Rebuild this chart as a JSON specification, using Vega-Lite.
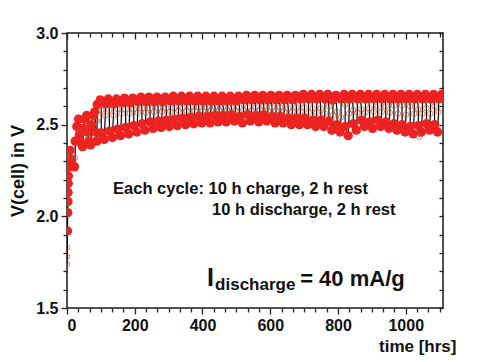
{
"$schema": "https://vega.github.io/schema/vega-lite/v6.json",
"width": 376,
"height": 275,
"autosize": "none",
"padding": {"left": 67, "top": 33, "right": 35, "bottom": 54},
"background": "white",
"config": {
  "view": {"stroke": "#1a1a1a", "strokeWidth": 1.5},
  "font": "Liberation Sans",
  "axis": {"domain": false, "grid": false, "labelFont": "Liberation Sans", "labelFontWeight": "bold", "labelFontSize": 16, "labelColor": "#111", "tickColor": "#222", "tickWidth": 1.3, "titleFont": "Liberation Sans", "titleFontWeight": "bold", "titleColor": "#111"}
},
"datasets": {
  "cyc": [
    {"t":0,"v":1.74,"k":"o"},{"t":0.4,"v":1.78,"k":"o"},{"t":0.8,"v":1.83,"k":"o"},{"t":1.3,"v":1.92,"k":"f"},{"t":2,"v":2.02,"k":"f"},{"t":2.5,"v":2.08,"k":"f"},{"t":3,"v":2.13,"k":"f"},{"t":3.5,"v":2.18,"k":"f"},{"t":4,"v":2.22,"k":"f"},{"t":5,"v":2.27,"k":"f"},{"t":6,"v":2.3,"k":"f"},{"t":9,"v":2.36,"k":"f"},{"t":11,"v":2.33,"k":"o"},{"t":11.3,"v":2.31,"k":"f"},{"t":17,"v":2.28,"k":"f"},{"t":22,"v":2.27,"k":"f"},{"t":24,"v":2.32,"k":"o"},
    {"t":24.3,"v":2.41,"k":"f"},{"t":29,"v":2.49,"k":"f"},{"t":34,"v":2.53,"k":"f"},{"t":36,"v":2.47,"k":"o"},{"t":36.3,"v":2.44,"k":"f"},{"t":41,"v":2.4,"k":"f"},{"t":46,"v":2.38,"k":"f"},{"t":48,"v":2.43,"k":"o"},
    {"t":48.3,"v":2.48,"k":"f"},{"t":53,"v":2.53,"k":"f"},{"t":58,"v":2.55,"k":"f"},{"t":60,"v":2.5,"k":"o"},{"t":60.3,"v":2.46,"k":"f"},{"t":65,"v":2.41,"k":"f"},{"t":70,"v":2.39,"k":"f"},{"t":72,"v":2.45,"k":"o"},
    {"t":72.3,"v":2.5,"k":"f"},{"t":77,"v":2.55,"k":"f"},{"t":82,"v":2.57,"k":"f"},{"t":84,"v":2.52,"k":"o"},{"t":84.3,"v":2.46,"k":"f"},{"t":88,"v":2.41,"k":"f"},
    {"t":89,"v":2.52,"k":"o"},{"t":89.3,"v":2.61,"k":"f"},{"t":98,"v":2.635,"k":"f"},{"t":101,"v":2.58,"k":"o"},{"t":101.3,"v":2.455,"k":"f"},{"t":110,"v":2.42,"k":"f"},
    {"t":113,"v":2.55,"k":"o"},{"t":113.3,"v":2.615,"k":"f"},{"t":122,"v":2.64,"k":"f"},{"t":125,"v":2.58,"k":"o"},{"t":125.3,"v":2.465,"k":"f"},{"t":134,"v":2.43,"k":"f"},
    {"t":137,"v":2.55,"k":"o"},{"t":137.3,"v":2.615,"k":"f"},{"t":146,"v":2.64,"k":"f"},{"t":149,"v":2.585,"k":"o"},{"t":149.3,"v":2.475,"k":"f"},{"t":158,"v":2.44,"k":"f"},
    {"t":161,"v":2.56,"k":"o"},{"t":161.3,"v":2.62,"k":"f"},{"t":170,"v":2.645,"k":"f"},{"t":173,"v":2.585,"k":"o"},{"t":173.3,"v":2.485,"k":"f"},{"t":182,"v":2.45,"k":"f"},
    {"t":185,"v":2.56,"k":"o"},{"t":185.3,"v":2.62,"k":"f"},{"t":194,"v":2.645,"k":"f"},{"t":197,"v":2.585,"k":"o"},{"t":197.3,"v":2.495,"k":"f"},{"t":206,"v":2.46,"k":"f"},
    {"t":209,"v":2.565,"k":"o"},{"t":209.3,"v":2.625,"k":"f"},{"t":218,"v":2.65,"k":"f"},{"t":221,"v":2.59,"k":"o"},{"t":221.3,"v":2.505,"k":"f"},{"t":230,"v":2.47,"k":"f"},
    {"t":233,"v":2.565,"k":"o"},{"t":233.3,"v":2.625,"k":"f"},{"t":242,"v":2.65,"k":"f"},{"t":245,"v":2.59,"k":"o"},{"t":245.3,"v":2.515,"k":"f"},{"t":254,"v":2.48,"k":"f"},
    {"t":257,"v":2.57,"k":"o"},{"t":257.3,"v":2.625,"k":"f"},{"t":266,"v":2.65,"k":"f"},{"t":269,"v":2.59,"k":"o"},{"t":269.3,"v":2.52,"k":"f"},{"t":278,"v":2.485,"k":"f"},
    {"t":281,"v":2.57,"k":"o"},{"t":281.3,"v":2.625,"k":"f"},{"t":290,"v":2.65,"k":"f"},{"t":293,"v":2.59,"k":"o"},{"t":293.3,"v":2.525,"k":"f"},{"t":302,"v":2.49,"k":"f"},
    {"t":305,"v":2.57,"k":"o"},{"t":305.3,"v":2.63,"k":"f"},{"t":314,"v":2.655,"k":"f"},{"t":317,"v":2.59,"k":"o"},{"t":317.3,"v":2.53,"k":"f"},{"t":326,"v":2.495,"k":"f"},
    {"t":329,"v":2.575,"k":"o"},{"t":329.3,"v":2.63,"k":"f"},{"t":338,"v":2.655,"k":"f"},{"t":341,"v":2.59,"k":"o"},{"t":341.3,"v":2.535,"k":"f"},{"t":350,"v":2.5,"k":"f"},
    {"t":353,"v":2.575,"k":"o"},{"t":353.3,"v":2.63,"k":"f"},{"t":362,"v":2.655,"k":"f"},{"t":365,"v":2.595,"k":"o"},{"t":365.3,"v":2.54,"k":"f"},{"t":374,"v":2.505,"k":"f"},
    {"t":377,"v":2.575,"k":"o"},{"t":377.3,"v":2.63,"k":"f"},{"t":386,"v":2.655,"k":"f"},{"t":389,"v":2.595,"k":"o"},{"t":389.3,"v":2.545,"k":"f"},{"t":398,"v":2.51,"k":"f"},
    {"t":401,"v":2.575,"k":"o"},{"t":401.3,"v":2.63,"k":"f"},{"t":410,"v":2.655,"k":"f"},{"t":413,"v":2.595,"k":"o"},{"t":413.3,"v":2.545,"k":"f"},{"t":422,"v":2.51,"k":"f"},
    {"t":425,"v":2.58,"k":"o"},{"t":425.3,"v":2.63,"k":"f"},{"t":434,"v":2.655,"k":"f"},{"t":437,"v":2.595,"k":"o"},{"t":437.3,"v":2.55,"k":"f"},{"t":446,"v":2.515,"k":"f"},
    {"t":449,"v":2.58,"k":"o"},{"t":449.3,"v":2.63,"k":"f"},{"t":458,"v":2.655,"k":"f"},{"t":461,"v":2.595,"k":"o"},{"t":461.3,"v":2.55,"k":"f"},{"t":470,"v":2.515,"k":"f"},
    {"t":473,"v":2.58,"k":"o"},{"t":473.3,"v":2.63,"k":"f"},{"t":482,"v":2.655,"k":"f"},{"t":485,"v":2.595,"k":"o"},{"t":485.3,"v":2.555,"k":"f"},{"t":494,"v":2.52,"k":"f"},
    {"t":497,"v":2.575,"k":"o"},{"t":497.3,"v":2.63,"k":"f"},{"t":506,"v":2.655,"k":"f"},{"t":509,"v":2.595,"k":"o"},{"t":509.3,"v":2.545,"k":"f"},{"t":518,"v":2.51,"k":"f"},
    {"t":521,"v":2.58,"k":"o"},{"t":521.3,"v":2.635,"k":"f"},{"t":530,"v":2.66,"k":"f"},{"t":533,"v":2.595,"k":"o"},{"t":533.3,"v":2.555,"k":"f"},{"t":542,"v":2.52,"k":"f"},
    {"t":545,"v":2.575,"k":"o"},{"t":545.3,"v":2.635,"k":"f"},{"t":554,"v":2.66,"k":"f"},{"t":557,"v":2.595,"k":"o"},{"t":557.3,"v":2.55,"k":"f"},{"t":566,"v":2.515,"k":"f"},
    {"t":569,"v":2.58,"k":"o"},{"t":569.3,"v":2.635,"k":"f"},{"t":578,"v":2.66,"k":"f"},{"t":581,"v":2.6,"k":"o"},{"t":581.3,"v":2.555,"k":"f"},{"t":590,"v":2.52,"k":"f"},
    {"t":593,"v":2.575,"k":"o"},{"t":593.3,"v":2.635,"k":"f"},{"t":602,"v":2.66,"k":"f"},{"t":605,"v":2.595,"k":"o"},{"t":605.3,"v":2.545,"k":"f"},{"t":614,"v":2.51,"k":"f"},
    {"t":617,"v":2.575,"k":"o"},{"t":617.3,"v":2.635,"k":"f"},{"t":626,"v":2.66,"k":"f"},{"t":629,"v":2.595,"k":"o"},{"t":629.3,"v":2.545,"k":"f"},{"t":638,"v":2.51,"k":"f"},
    {"t":641,"v":2.57,"k":"o"},{"t":641.3,"v":2.635,"k":"f"},{"t":650,"v":2.66,"k":"f"},{"t":653,"v":2.59,"k":"o"},{"t":653.3,"v":2.535,"k":"f"},{"t":662,"v":2.5,"k":"f"},
    {"t":665,"v":2.57,"k":"o"},{"t":665.3,"v":2.635,"k":"f"},{"t":674,"v":2.66,"k":"f"},{"t":677,"v":2.595,"k":"o"},{"t":677.3,"v":2.535,"k":"f"},{"t":686,"v":2.5,"k":"f"},
    {"t":689,"v":2.57,"k":"o"},{"t":689.3,"v":2.64,"k":"f"},{"t":698,"v":2.665,"k":"f"},{"t":701,"v":2.595,"k":"o"},{"t":701.3,"v":2.535,"k":"f"},{"t":710,"v":2.5,"k":"f"},
    {"t":713,"v":2.565,"k":"o"},{"t":713.3,"v":2.64,"k":"f"},{"t":722,"v":2.665,"k":"f"},{"t":725,"v":2.59,"k":"o"},{"t":725.3,"v":2.525,"k":"f"},{"t":734,"v":2.49,"k":"f"},
    {"t":737,"v":2.565,"k":"o"},{"t":737.3,"v":2.64,"k":"f"},{"t":746,"v":2.665,"k":"f"},{"t":749,"v":2.59,"k":"o"},{"t":749.3,"v":2.525,"k":"f"},{"t":758,"v":2.49,"k":"f"},
    {"t":761,"v":2.56,"k":"o"},{"t":761.3,"v":2.64,"k":"f"},{"t":770,"v":2.665,"k":"f"},{"t":773,"v":2.6,"k":"o"},{"t":773.3,"v":2.52,"k":"f"},{"t":782,"v":2.47,"k":"f"},
    {"t":785,"v":2.55,"k":"o"},{"t":785.3,"v":2.635,"k":"f"},{"t":794,"v":2.66,"k":"f"},{"t":797,"v":2.57,"k":"o"},{"t":797.3,"v":2.5,"k":"f"},{"t":806,"v":2.46,"k":"f"},
    {"t":809,"v":2.54,"k":"o"},{"t":809.3,"v":2.64,"k":"f"},{"t":818,"v":2.665,"k":"f"},{"t":821,"v":2.61,"k":"o"},{"t":821.3,"v":2.49,"k":"f"},{"t":830,"v":2.44,"k":"f"},
    {"t":833,"v":2.56,"k":"o"},{"t":833.3,"v":2.64,"k":"f"},{"t":842,"v":2.665,"k":"f"},{"t":845,"v":2.58,"k":"o"},{"t":845.3,"v":2.505,"k":"f"},{"t":854,"v":2.47,"k":"f"},
    {"t":857,"v":2.565,"k":"o"},{"t":857.3,"v":2.64,"k":"f"},{"t":866,"v":2.665,"k":"f"},{"t":869,"v":2.585,"k":"o"},{"t":869.3,"v":2.525,"k":"f"},{"t":878,"v":2.49,"k":"f"},
    {"t":881,"v":2.565,"k":"o"},{"t":881.3,"v":2.64,"k":"f"},{"t":890,"v":2.665,"k":"f"},{"t":893,"v":2.59,"k":"o"},{"t":893.3,"v":2.515,"k":"f"},{"t":902,"v":2.48,"k":"f"},
    {"t":905,"v":2.57,"k":"o"},{"t":905.3,"v":2.64,"k":"f"},{"t":914,"v":2.665,"k":"f"},{"t":917,"v":2.6,"k":"o"},{"t":917.3,"v":2.525,"k":"f"},{"t":926,"v":2.49,"k":"f"},
    {"t":929,"v":2.57,"k":"o"},{"t":929.3,"v":2.64,"k":"f"},{"t":938,"v":2.665,"k":"f"},{"t":941,"v":2.6,"k":"o"},{"t":941.3,"v":2.515,"k":"f"},{"t":950,"v":2.48,"k":"f"},
    {"t":953,"v":2.565,"k":"o"},{"t":953.3,"v":2.64,"k":"f"},{"t":962,"v":2.665,"k":"f"},{"t":965,"v":2.605,"k":"o"},{"t":965.3,"v":2.505,"k":"f"},{"t":974,"v":2.47,"k":"f"},
    {"t":977,"v":2.56,"k":"o"},{"t":977.3,"v":2.64,"k":"f"},{"t":986,"v":2.665,"k":"f"},{"t":989,"v":2.605,"k":"o"},{"t":989.3,"v":2.5,"k":"f"},{"t":998,"v":2.46,"k":"f"},
    {"t":1001,"v":2.555,"k":"o"},{"t":1001.3,"v":2.64,"k":"f"},{"t":1010,"v":2.665,"k":"f"},{"t":1013,"v":2.6,"k":"o"},{"t":1013.3,"v":2.49,"k":"f"},{"t":1022,"v":2.45,"k":"f"},
    {"t":1025,"v":2.56,"k":"o"},{"t":1025.3,"v":2.64,"k":"f"},{"t":1034,"v":2.665,"k":"f"},{"t":1037,"v":2.585,"k":"o"},{"t":1037.3,"v":2.495,"k":"f"},{"t":1040,"v":2.435,"k":"o"},{"t":1046,"v":2.46,"k":"f"},
    {"t":1049,"v":2.56,"k":"o"},{"t":1049.3,"v":2.64,"k":"f"},{"t":1058,"v":2.665,"k":"f"},{"t":1061,"v":2.59,"k":"o"},{"t":1061.3,"v":2.505,"k":"f"},{"t":1070,"v":2.47,"k":"f"},
    {"t":1073,"v":2.56,"k":"o"},{"t":1073.3,"v":2.64,"k":"f"},{"t":1082,"v":2.665,"k":"f"},{"t":1085,"v":2.6,"k":"o"},{"t":1085.3,"v":2.5,"k":"f"},{"t":1094,"v":2.46,"k":"f"},
    {"t":1097,"v":2.57,"k":"o"},{"t":1097.3,"v":2.64,"k":"f"},{"t":1106,"v":2.665,"k":"f"}
  ]
},
"layer": [
  {
    "data": {"name": "cyc"},
    "mark": {"type": "line", "color": "#000000", "strokeWidth": 1.2, "clip": true},
    "encoding": {
      "x": {"field": "t", "type": "quantitative", "scale": {"domain": [0, 1110], "nice": false, "zero": false},
        "axis": {"orient": "bottom", "values": [0,33.333,66.667,100,133.333,166.667,200,233.333,266.667,300,333.333,366.667,400,433.333,466.667,500,533.333,566.667,600,633.333,666.667,700,733.333,766.667,800,833.333,866.667,900,933.333,966.667,1000,1033.333,1066.667,1100],
          "format": "d", "labelExpr": "datum.value % 200 === 0 ? datum.label : ''", "labelPadding": 3,
          "tickSize": {"condition": {"test": "datum.value % 200 === 0", "value": 6}, "value": 4},
          "title": "time [hrs]", "titleFontSize": 17, "titleAlign": "right", "titleX": 389, "titleY": 43, "titleBaseline": "alphabetic"}},
      "y": {"field": "v", "type": "quantitative", "scale": {"domain": [1.5, 3.0], "nice": false, "zero": false},
        "axis": {"orient": "left", "values": [1.5,1.6,1.7,1.8,1.9,2.0,2.1,2.2,2.3,2.4,2.5,2.6,2.7,2.8,2.9,3.0],
          "labelExpr": "round(datum.value*10) % 5 === 0 ? format(datum.value, '.1f') : ''", "labelPadding": 3,
          "tickSize": {"condition": {"test": "round(datum.value*10) % 5 === 0", "value": 6}, "value": 4},
          "title": "V(cell) in V", "titleFontSize": 18, "titlePadding": 8}}
    }
  },
  {
    "data": {"name": "cyc"},
    "transform": [{"filter": "datum.k === 'f'"}],
    "mark": {"type": "point", "filled": true, "size": 88, "color": "#ec2320", "opacity": 1, "clip": true},
    "encoding": {
      "x": {"field": "t", "type": "quantitative",
        "axis": {"orient": "top", "values": [0,33.333,66.667,100,133.333,166.667,200,233.333,266.667,300,333.333,366.667,400,433.333,466.667,500,533.333,566.667,600,633.333,666.667,700,733.333,766.667,800,833.333,866.667,900,933.333,966.667,1000,1033.333,1066.667,1100],
          "labels": false, "title": null,
          "tickSize": {"condition": {"test": "datum.value % 200 === 0", "value": -6}, "value": -4}}},
      "y": {"field": "v", "type": "quantitative",
        "axis": {"orient": "right", "values": [1.5,1.6,1.7,1.8,1.9,2.0,2.1,2.2,2.3,2.4,2.5,2.6,2.7,2.8,2.9,3.0],
          "labels": false, "title": null, "tickSize": -4}}
    }
  },
  {
    "data": {"name": "cyc"},
    "transform": [{"filter": "datum.k === 'o'"}],
    "mark": {"type": "point", "filled": false, "size": 30, "color": "#d9452a", "strokeWidth": 1, "clip": true},
    "encoding": {
      "x": {"field": "t", "type": "quantitative", "axis": null},
      "y": {"field": "v", "type": "quantitative", "axis": null}
    }
  },
  {
    "data": {"values": [{}]},
    "mark": {"type": "text", "text": "Each cycle: 10 h charge, 2 h rest", "align": "left", "baseline": "middle", "fontSize": 16.5, "fontWeight": "bold", "font": "Liberation Sans", "color": "#111"},
    "encoding": {
      "x": {"datum": 136, "type": "quantitative", "axis": null},
      "y": {"datum": 2.149, "type": "quantitative", "axis": null}
    }
  },
  {
    "data": {"values": [{}]},
    "mark": {"type": "text", "text": "10 h discharge, 2 h rest", "align": "left", "baseline": "middle", "fontSize": 16.5, "fontWeight": "bold", "font": "Liberation Sans", "color": "#111"},
    "encoding": {
      "x": {"datum": 428.4, "type": "quantitative", "axis": null},
      "y": {"datum": 2.034, "type": "quantitative", "axis": null}
    }
  },
  {
    "data": {"values": [{}]},
    "mark": {"type": "text", "text": "I", "align": "left", "baseline": "alphabetic", "fontSize": 25, "fontWeight": "bold", "font": "Liberation Sans", "color": "#111"},
    "encoding": {
      "x": {"datum": 413.6, "type": "quantitative", "axis": null},
      "y": {"datum": 1.62, "type": "quantitative", "axis": null}
    }
  },
  {
    "data": {"values": [{}]},
    "mark": {"type": "text", "text": "discharge", "align": "left", "baseline": "alphabetic", "fontSize": 17, "fontWeight": "bold", "font": "Liberation Sans", "color": "#111"},
    "encoding": {
      "x": {"datum": 437.2, "type": "quantitative", "axis": null},
      "y": {"datum": 1.598, "type": "quantitative", "axis": null}
    }
  },
  {
    "data": {"values": [{}]},
    "mark": {"type": "text", "text": "= 40 mA/g", "align": "left", "baseline": "alphabetic", "fontSize": 22, "fontWeight": "bold", "font": "Liberation Sans", "color": "#111"},
    "encoding": {
      "x": {"datum": 688.3, "type": "quantitative", "axis": null},
      "y": {"datum": 1.622, "type": "quantitative", "axis": null}
    }
  }
],
"resolve": {"axis": {"x": "independent", "y": "independent"}}
}
